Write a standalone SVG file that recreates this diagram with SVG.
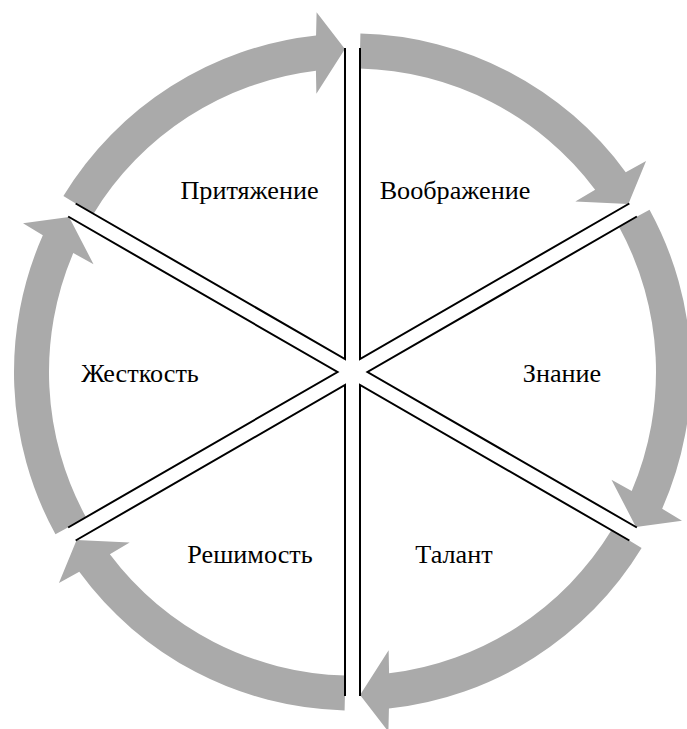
<svg xmlns="http://www.w3.org/2000/svg" xmlns:xlink="http://www.w3.org/1999/xlink" width="687" height="729" viewBox="0 0 687 729">
<style>
.arrow{fill:#AAAAAA;stroke:none}
.ray{fill:none;stroke:#000;stroke-width:2;stroke-linejoin:miter;stroke-linecap:butt}
.lbl{font-family:"Liberation Serif",serif;font-size:26.2px;fill:#000;text-anchor:middle}
</style>
<defs>
<path id="arc" class="arrow" d="M360.41,33.59 A338.5,338.5 0 0 1 625.73,172.17 L646.07,161.05 L628.37,203.99 L575.34,201.62 L595.14,189.68 A303.5,303.5 0 0 0 359.60,68.58 Z"/>
<polyline id="vee" class="ray" points="360,48 360,359.01 629.34,203.5"/>
</defs>
<rect width="687" height="729" fill="#fff"/>
<g id="arrows">
<use id="arrow1" xlink:href="#arc"/>
<use id="arrow2" xlink:href="#arc" transform="rotate(60 352.5 372)"/>
<use id="arrow3" xlink:href="#arc" transform="rotate(120 352.5 372)"/>
<use id="arrow4" xlink:href="#arc" transform="rotate(180 352.5 372)"/>
<use id="arrow5" xlink:href="#arc" transform="rotate(240 352.5 372)"/>
<use id="arrow6" xlink:href="#arc" transform="rotate(300 352.5 372)"/>
</g>
<g id="connectors">
<use xlink:href="#vee"/>
<use xlink:href="#vee" transform="rotate(60 352.5 372)"/>
<use xlink:href="#vee" transform="rotate(120 352.5 372)"/>
<use xlink:href="#vee" transform="rotate(180 352.5 372)"/>
<use xlink:href="#vee" transform="rotate(240 352.5 372)"/>
<use xlink:href="#vee" transform="rotate(300 352.5 372)"/>
</g>
<g id="node-pritjazhenie"><text class="lbl" x="249.5" y="199">Притяжение</text></g>
<g id="node-voobrazhenie"><text class="lbl" x="455" y="199">Воображение</text></g>
<g id="node-znanie"><text class="lbl" x="562" y="382">Знание</text></g>
<g id="node-talant"><text class="lbl" x="454" y="563">Талант</text></g>
<g id="node-reshimost"><text class="lbl" x="250" y="563">Решимость</text></g>
<g id="node-zhestkost"><text class="lbl" x="140" y="382">Жесткость</text></g>
</svg>
